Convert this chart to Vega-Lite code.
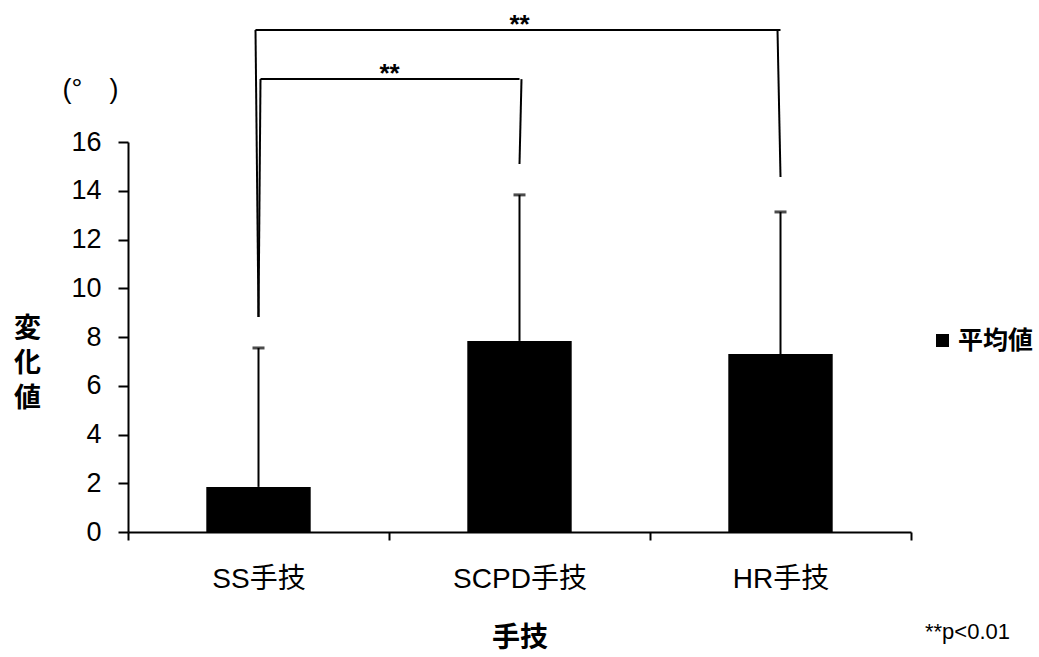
{
  "$schema": "https://vega.github.io/schema/vega-lite/v6.json",
  "width": 783,
  "height": 390,
  "autosize": {"type": "none"},
  "padding": {"left": 128, "top": 142, "right": 128, "bottom": 125},
  "background": "white",
  "config": {"view": {"stroke": null}, "font": "Liberation Sans, Noto Sans CJK JP"},
  "datasets": {
    "means": [
      {"手技": "SS手技", "平均値": 1.85, "上限": 7.55, "系列": "平均値"},
      {"手技": "SCPD手技", "平均値": 7.84, "上限": 13.83, "系列": "平均値"},
      {"手技": "HR手技", "平均値": 7.3, "上限": 13.13, "系列": "平均値"}
    ],
    "brackets": [
      {"括弧": "outer", "始": "SS手技", "終": "HR手技", "上": 20.6, "下": 20.6},
      {"括弧": "outer", "始": "SS手技", "終": "SS手技", "上": 20.6, "下": 8.82},
      {"括弧": "outer", "始": "HR手技", "終": "HR手技", "上": 20.6, "下": 14.56},
      {"括弧": "inner", "始": "SS手技", "終": "SCPD手技", "上": 18.58, "下": 18.58},
      {"括弧": "inner", "始": "SS手技", "終": "SS手技", "上": 18.58, "下": 8.82},
      {"括弧": "inner", "始": "SCPD手技", "終": "SCPD手技", "上": 18.58, "下": 15.1}
    ],
    "notes": [
      {"id": "outer", "注記": "**", "位置": "SCPD手技", "値": 20.6},
      {"id": "inner", "注記": "**", "位置": "SS手技", "値": 18.58},
      {"id": "p", "注記": "**p<0.01", "位置": "HR手技", "値": -4.1},
      {"id": "unit", "注記": "(°\u3000)", "位置": "SS手技", "値": 18.13}
    ]
  },
  "layer": [
    {
      "data": {"name": "means"},
      "mark": {"type": "bar", "color": "#000", "width": {"band": 0.4}},
      "encoding": {
        "x": {
          "field": "手技", "type": "nominal",
          "scale": {"domain": ["SS手技", "SCPD手技", "HR手技"], "paddingInner": 0, "paddingOuter": 0},
          "axis": {
            "title": "手技", "domainColor": "#000", "domainWidth": 2, "tickColor": "#000", "tickWidth": 2,
            "tickSize": 8, "tickBand": "extent", "labelAngle": 0, "labelFontSize": 28, "labelColor": "#000",
            "labelPadding": 25, "titleFontSize": 28, "titleFontWeight": "bold", "titleColor": "#000",
            "titleY": 106, "titleBaseline": "middle"
          }
        },
        "y": {
          "field": "平均値", "type": "quantitative",
          "scale": {"domain": [0, 16], "nice": false},
          "axis": {
            "title": ["変", "化", "値"], "values": [0, 2, 4, 6, 8, 10, 12, 14, 16], "grid": false,
            "domainColor": "#000", "domainWidth": 2, "tickColor": "#000", "tickWidth": 2, "tickSize": 10,
            "labelFontSize": 27, "labelPadding": 17, "labelColor": "#000",
            "titleAngle": 0, "titleX": -101, "titleY": 186, "titleAlign": "center", "titleBaseline": "middle",
            "titleFontSize": 27, "titleFontWeight": "bold", "titleLineHeight": 35, "titleColor": "#000"
          }
        },
        "color": {
          "field": "系列", "type": "nominal",
          "scale": {"range": ["#000"]},
          "legend": {
            "title": null, "orient": "none", "legendX": 802, "legendY": 186, "padding": 0,
            "symbolType": "square", "symbolSize": 169, "symbolStrokeWidth": 0,
            "labelFontSize": 25, "labelFontWeight": "bold", "labelColor": "#000", "labelOffset": 3
          }
        }
      }
    },
    {
      "data": {"name": "means"},
      "mark": {"type": "rule", "color": "#000", "strokeWidth": 2},
      "encoding": {
        "x": {"field": "手技", "type": "nominal"},
        "y": {"field": "平均値", "type": "quantitative"},
        "y2": {"field": "上限"}
      }
    },
    {
      "data": {"name": "means"},
      "mark": {"type": "tick", "color": "#000", "size": 12, "thickness": 3},
      "encoding": {
        "x": {"field": "手技", "type": "nominal"},
        "y": {"field": "上限", "type": "quantitative"}
      }
    },
    {
      "data": {"name": "brackets"},
      "transform": [{"filter": "datum['括弧'] === 'outer'"}],
      "mark": {"type": "rule", "color": "#000", "strokeWidth": 2, "xOffset": -3},
      "encoding": {
        "x": {"field": "始", "type": "nominal"},
        "x2": {"field": "終"},
        "y": {"field": "上", "type": "quantitative"},
        "y2": {"field": "下"}
      }
    },
    {
      "data": {"name": "brackets"},
      "transform": [{"filter": "datum['括弧'] === 'inner'"}],
      "mark": {"type": "rule", "color": "#000", "strokeWidth": 2, "xOffset": 2},
      "encoding": {
        "x": {"field": "始", "type": "nominal"},
        "x2": {"field": "終"},
        "y": {"field": "上", "type": "quantitative"},
        "y2": {"field": "下"}
      }
    },
    {
      "data": {"name": "notes"},
      "transform": [{"filter": "datum.id === 'outer'"}],
      "mark": {"type": "text", "color": "#000", "fontSize": 26, "fontWeight": "bold", "baseline": "alphabetic", "dy": 3},
      "encoding": {
        "x": {"field": "位置", "type": "nominal"},
        "y": {"field": "値", "type": "quantitative"},
        "text": {"field": "注記"}
      }
    },
    {
      "data": {"name": "notes"},
      "transform": [{"filter": "datum.id === 'inner'"}],
      "mark": {"type": "text", "color": "#000", "fontSize": 26, "fontWeight": "bold", "baseline": "alphabetic", "dy": 3, "dx": 131},
      "encoding": {
        "x": {"field": "位置", "type": "nominal"},
        "y": {"field": "値", "type": "quantitative"},
        "text": {"field": "注記"}
      }
    },
    {
      "data": {"name": "notes"},
      "transform": [{"filter": "datum.id === 'p'"}],
      "mark": {"type": "text", "color": "#000", "fontSize": 22, "baseline": "middle", "dx": 187},
      "encoding": {
        "x": {"field": "位置", "type": "nominal"},
        "y": {"field": "値", "type": "quantitative"},
        "text": {"field": "注記"}
      }
    },
    {
      "data": {"name": "notes"},
      "transform": [{"filter": "datum.id === 'unit'"}],
      "mark": {"type": "text", "color": "#000", "fontSize": 27, "baseline": "middle", "dx": -168},
      "encoding": {
        "x": {"field": "位置", "type": "nominal"},
        "y": {"field": "値", "type": "quantitative"},
        "text": {"field": "注記"}
      }
    }
  ]
}
